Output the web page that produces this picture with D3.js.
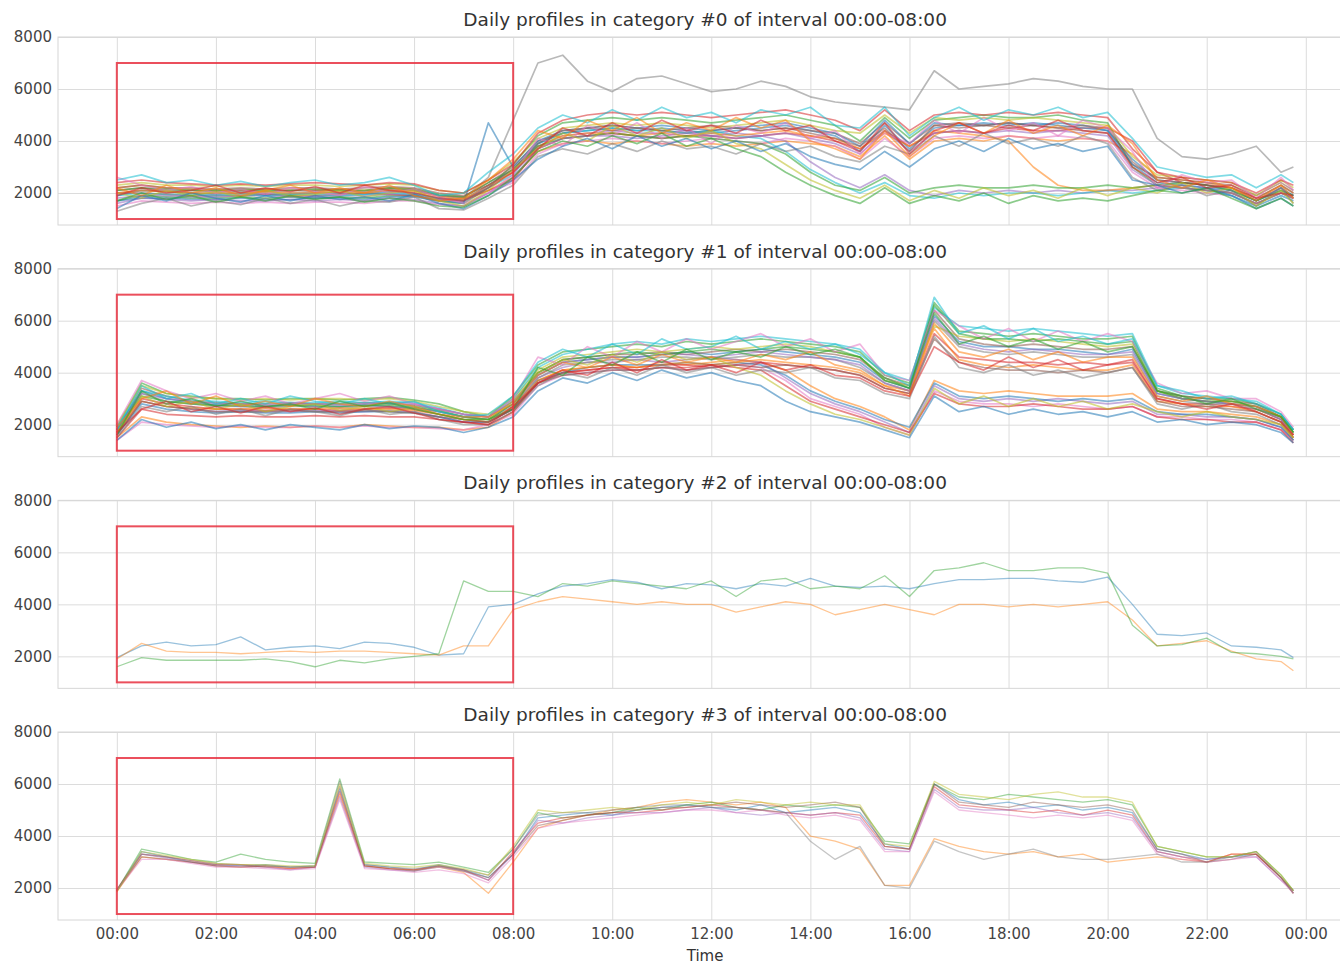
<!DOCTYPE html>
<html>
<head>
<meta charset="utf-8">
<script src="https://cdn.jsdelivr.net/npm/d3@7"></script>
<style>
  body { margin: 0; background: #fff; }
  svg { display: block; font-family: "DejaVu Sans", sans-serif; }
</style>
</head>
<body>
<svg id="chart" width="1340" height="965"></svg>
<script>
// Half-hour slots, last sample at 23:45.
const slots = d3.range(0, 24, 0.5).concat([23.75]);
const tickHours = d3.range(0, 25, 2);
const tickLabels = ['00:00', '02:00', '04:00', '06:00', '08:00', '10:00', '12:00',
                    '14:00', '16:00', '18:00', '20:00', '22:00', '00:00'];
const yTicks = [2000, 4000, 6000, 8000];
const yDomain = [770, 8000];
const interval = {from: 0, to: 8, low: 1000, high: 7000};
const titles = [0, 1, 2, 3].map(c => `Daily profiles in category #${c} of interval 00:00-08:00`);

const cat0 = [
  [1900,2100,2050,2000,1950,2000,1950,1950,2000,2000,1950,2050,2000,1800,1750, 2300,2900, 3900,4300,4400,4500,4400,4500,4400,4300,4400,4500,4600,4400,4200, 3600,4600,3700,4500,4600,4600,4700,4600,4700,4600,4400, 3300,2500,2400,2300,2100,1700,2100,1900],
  [2200,2300,2200,2150,2100,2100,2150,2100,2100,2150,2100,2200,2150,1900,1800, 2100,2600, 3600,3900,4000,3900,4000,3900,3800,3900,3800,3900,4000,3900,3800, 3400,4200,3300,4000,4100,4000,4200,4100,4000,4100,4000, 3500,2600,2500,2400,2200,1800,2300,2000],
  [1700,1900,1850,1800,1800,1850,1800,1850,1800,1850,1800,1900,1900,1700,1600, 2200,3100, 4200,4700,4800,4900,4800,4900,4800,4700,4800,4900,5000,4800,4600, 4000,4900,4100,4800,4900,5000,4900,4900,5000,4800,4700, 3000,2300,2200,2100,2000,1600,2000,1800],
  [2000,2000,1950,1900,1900,1900,1950,1900,1900,1950,2000,1950,1900,1750,1700, 2100,2500, 3700,4100,4200,4300,4200,4100,4200,4200,4100,4200,4300,4200,4000, 3700,4400,3800,4300,4400,4300,4500,4400,4400,4500,4500, 4000,2800,2400,2300,2200,1700,2200,1800],
  [1800,1900,1900,1850,1850,1900,1900,1850,1850,1900,1900,1950,1950,1750,1650, 2300,2800, 3800,4200,4300,4400,4300,4300,4400,4200,4300,4200,4000,3200,2600, 2200,2700,2100,1900,2100,2000,2100,2000,2100,2000,2100, 2100,2200,2300,2200,2000,1600,2000,1800],
  [2100,2200,2100,2100,2050,2100,2050,2100,2100,2100,2050,2150,2100,1900,1850, 2400,3000, 4000,4300,4500,4400,4500,4400,4300,4400,4500,4400,4500,4400,4300, 3900,4700,3900,4600,4500,4600,4500,4600,4500,4400,4300, 3100,2600,2500,2400,2300,1900,2400,2100],
  [1500,1700,1650,1600,1650,1600,1650,1600,1650,1650,1600,1700,1700,1550,1500, 2000,2400, 3500,3900,4000,4100,4000,3900,4000,4100,4000,3900,4100,4000,3800, 3300,4100,3400,4100,4200,4100,4200,4100,4200,4100,4000, 2800,2200,2100,2000,1900,1500,1900,1700],
  [2000,2100,2050,2000,2000,2050,2000,2000,2050,2000,2000,2100,2100,1900,1800, 2600,4800, 7000,7300,6300,5900,6400,6500,6200,5900,6000,6300,6100,5700,5500, 5400,5300,5200,6700,6000,6100,6200,6400,6300,6100,6000, 6000,4100,3400,3300,3500,3800,2800,3000],
  [2300,2400,2300,2300,2250,2300,2250,2300,2300,2250,2300,2350,2300,2100,2000, 2500,3200, 4100,4500,4600,4700,4600,4700,4600,4500,4600,4700,4800,4600,4400, 4300,5000,4300,4900,4800,4900,4800,4900,4800,4700,4600, 3400,2700,2600,2500,2400,1900,2500,2200],
  [1900,2000,1950,1950,1900,1950,1900,1950,1950,1900,1950,2000,1950,1800,1700, 2200,2700, 3900,4300,4400,4500,4400,4400,4300,4400,4200,4100,3600,2900,2400, 2000,2400,1900,1800,2000,1900,2000,2000,1900,2000,2100, 2000,2100,2200,2100,1900,1500,1900,1700],
  [1700,1800,1800,1750,1750,1800,1750,1750,1800,1800,1750,1850,1850,1700,1600, 4700,3000, 4000,4400,4500,4600,4500,4600,4500,4400,4500,4600,4700,4500,4300, 3800,4800,3900,4700,4600,4700,4600,4700,4600,4500,4400, 3100,2400,2300,2200,2100,1700,2200,1900],
  [2000,2100,2050,2000,2000,2000,2050,2000,2000,2050,2000,2100,2050,1850,1750, 2300,2800, 3800,4200,4300,4300,4200,4300,4200,4300,4200,4300,4400,4200,4100, 3700,4300,3800,4400,4300,4200,4000,3000,2300,2100,2100, 2200,2300,2200,2100,2000,1600,2000,1800],
  [2100,2200,2150,2100,2100,2150,2100,2100,2150,2100,2100,2200,2150,1950,1850, 2400,2900, 3800,4100,4200,4300,4200,4100,4200,4100,4000,3900,3500,2800,2300, 2100,2600,2000,2200,2300,2200,2200,2300,2200,2200,2300, 2200,2300,2400,2300,2100,1700,2100,1900],
  [2400,2500,2400,2350,2300,2350,2300,2350,2400,2350,2300,2400,2350,2100,2000, 2500,3100, 4300,4800,5000,5100,5000,5100,5000,4900,5000,5100,5200,5000,4800, 4400,5200,4400,5000,5100,5000,5100,5000,5100,5000,4900, 3700,2800,2600,2500,2400,2000,2500,2300],
  [1600,1800,1750,1700,1750,1700,1700,1750,1700,1750,1700,1800,1750,1600,1500, 2000,2600, 3700,4100,4200,4200,4100,4200,4300,4200,4100,4200,4300,4100,3900, 3500,4400,3600,4300,4400,4300,4400,4300,4400,4300,4200, 2900,2300,2200,2100,2000,1600,2000,1800],
  [2200,2300,2200,2200,2150,2200,2150,2200,2200,2150,2200,2250,2200,2000,1900, 2300,2900, 3900,4400,4500,4600,4500,4400,4500,4600,4500,4400,4500,4300,4100, 3800,4500,3600,4600,4700,4600,4700,4600,4500,4600,4500, 3200,2500,2400,2300,2200,1800,2300,2000],
  [2600,2300,2100,2250,2000,2150,1950,2200,2050,1900,2250,2000,2150,1850,1600, 2000,2700, 4100,3800,4600,4200,4700,4100,4500,3900,4600,4300,4700,4100,4400, 3500,4300,3900,4800,4300,4900,4400,4700,4200,4800,4500, 3600,2200,2700,2400,2500,1800,2600,2100],
  [1300,1600,1800,1500,1700,1550,1800,1600,1750,1500,1700,1650,1850,1400,1350, 1800,2300, 3400,3700,3500,3900,3600,4000,3700,3800,3500,3900,3600,3800,3400, 3200,3800,3500,4200,3800,4300,3900,4100,3800,4200,3900, 2600,2100,2300,1900,2100,1500,2200,1600],
  [2000,1800,2100,1900,2050,1850,2100,1900,1950,2100,1850,2000,2100,1700,1500, 2100,2900, 3700,4300,4000,4600,4200,4500,4100,4400,3900,3700,3100,2500,2100, 1800,2300,1700,2100,1800,2200,1900,2100,1800,2200,1900, 2200,2000,2400,2000,2200,1500,2100,1600],
  [2500,2700,2400,2500,2300,2450,2250,2400,2500,2300,2400,2600,2300,1900,2000, 2800,3500, 4500,5000,4700,5200,4800,5300,4900,5100,4700,5200,5000,5300,4600, 4500,5300,4200,4900,5300,4800,5200,5000,5300,4900,5100, 4100,3000,2800,2600,2700,2200,2700,2400],
  [1400,1900,1700,2000,1800,1650,1900,1700,1900,1750,1850,1700,1950,1600,1400, 1900,2500, 3300,3800,4100,3700,4200,3800,4100,3700,4000,3600,3900,3400,3100, 2900,3600,3000,3700,4000,3600,4100,3700,3900,3600,3800, 2500,2300,2000,2200,1900,1400,1800,1500],
  [2200,1900,2300,2000,2200,1900,2100,2300,2000,2200,2000,2300,1900,1700,1800, 2500,3300, 4400,4100,4800,4400,4900,4300,4700,4400,4900,4500,4800,4000,3700, 3300,4400,3400,4200,4700,4300,4800,4300,4600,4200,4600, 3900,2500,2200,2500,2200,1700,2300,1800],
  [1700,2000,1750,1900,1650,1850,1700,1900,1750,1850,1650,1800,1700,1500,1450, 1900,2600, 3600,4000,3800,4200,3900,4300,3800,4100,3700,3400,2800,2300,1900, 1600,2200,1600,1900,1700,2000,1600,1900,1700,1800,1700, 1900,2100,2000,2200,1800,1400,1800,1500],
  [1900,2200,2000,2100,2300,2000,2200,2050,2250,2000,2300,2100,2000,1800,1700, 2200,2800, 3700,4500,4200,4700,4300,4800,4400,4600,4300,4800,4400,4600,4000, 3600,4700,3500,4400,4700,4300,4600,4400,4800,4400,4300, 3000,2400,2600,2200,2300,1800,2000,1900]
];

const cat1 = [
  [1800,3300,3000,2850,2750,2700,2700,2750,2700,2700,2750,2700,2650,2500,2300, 2200,2800, 3900,4400,4500,4600,4600,4700,4800,4700,4800,4900,4800,4700,4600, 4400,3700,3400,6200,5200,5000,5000,4900,4900,4800,4700, 4900,3200,3000,2900,2800,2700,2300,1700],
  [1500,2300,2100,2000,1950,1900,1950,1900,1950,1900,2000,1950,1900,1900,1800, 1900,2500, 3700,4100,4200,4300,4200,4400,4300,4400,4500,4400,4100,3500,3000, 2700,2300,1800,3700,3300,3200,3300,3200,3100,3100,3100, 3200,2600,2500,2500,2400,2300,2000,1500],
  [1900,3600,3200,3100,3000,3000,2950,3000,3000,2950,3000,3050,2950,2800,2500, 2300,3100, 4300,4800,4900,5000,5100,5000,5200,5100,5200,5300,5200,5100,5000, 4800,3900,3600,6700,5600,5500,5400,5500,5400,5300,5300, 5400,3400,3100,3000,3000,2800,2400,1800],
  [1700,3000,2800,2700,2600,2600,2550,2600,2600,2550,2600,2650,2600,2400,2200, 2100,2600, 3600,4000,4100,4200,4200,4300,4300,4200,4300,4400,4300,4200,4100, 3900,3400,3200,5500,4600,4500,4400,4400,4300,4400,4300, 4500,3000,2800,2800,2700,2600,2200,1600],
  [1600,2900,2700,2600,2500,2550,2500,2500,2550,2500,2500,2550,2500,2300,2100, 2100,2700, 3800,4200,4400,4400,4500,4400,4500,4600,4500,4400,3800,3200,2800, 2500,2100,1700,3500,3000,2900,3000,2900,3000,2900,2800, 2900,2400,2400,2300,2300,2200,1900,1400],
  [1800,3400,3100,2900,2850,2800,2800,2850,2800,2800,2850,2800,2750,2600,2400, 2300,2900, 4000,4500,4600,4700,4700,4800,4700,4800,4900,4800,4900,4800,4700, 4500,3800,3500,6400,5300,5100,5000,5100,5000,4900,4900, 5000,3300,3100,3000,2900,2800,2300,1800],
  [1400,2100,2000,1950,1900,1950,1900,1900,1950,1900,1950,1900,1900,1850,1800, 2000,2400, 3500,3900,4000,4100,4100,4200,4100,4200,4300,4200,3700,3000,2700, 2400,1900,1600,3300,2900,2800,2800,2700,2800,2700,2600, 2700,2300,2300,2200,2200,2100,1800,1400],
  [1700,3200,2900,2800,2700,2700,2650,2700,2700,2650,2700,2700,2650,2500,2300, 2200,2700, 3800,4300,4400,4500,4500,4600,4600,4500,4600,4700,4600,4600,4500, 4200,3600,3300,6000,5000,4800,4700,4800,4700,4600,4600, 4700,3100,2900,2800,2800,2600,2200,1600],
  [2000,3500,3200,3050,3000,2950,3000,2950,3000,3000,2950,3000,2900,2700,2500, 2400,3000, 4100,4600,4700,4800,4900,4800,4900,5000,4900,5000,5100,5000,4800, 4600,3700,3500,5800,5400,5300,5200,5300,5200,5100,5000, 5100,3300,3000,2900,2900,2700,2300,1700],
  [1900,3300,3100,2950,2900,2850,2900,2850,2850,2900,2850,2900,2850,2650,2400, 2300,3000, 4200,4700,4900,5100,5200,5100,5300,5200,5300,5400,5300,5200,5100, 4900,4000,3700,6500,5800,5700,5600,5700,5600,5500,5400, 5500,3500,3200,3100,3000,2900,2400,1800],
  [1600,2800,2600,2500,2450,2500,2450,2450,2500,2450,2500,2500,2450,2300,2100, 2100,2600, 3700,4000,4200,4300,4300,4300,4400,4300,4400,4300,3900,3300,2900, 2600,2200,1900,3600,3100,3000,3100,3000,2900,3000,2900, 3000,2500,2400,2400,2300,2200,1900,1400],
  [1700,2900,2700,2650,2600,2600,2650,2600,2600,2650,2600,2600,2550,2400,2200, 2100,2700, 3700,4100,4200,4300,4200,4300,4400,4300,4400,4500,4400,4300,4200, 4000,3500,3300,5700,4500,4300,4200,4300,4200,4100,4100, 4300,2900,2800,2700,2700,2500,2100,1500],
  [1800,3100,2900,2800,2750,2750,2700,2750,2750,2700,2750,2750,2700,2550,2300, 2200,2800, 4000,4500,4600,4700,4800,4700,4800,4900,4800,4900,5000,4900,4800, 4600,3700,3400,6600,5500,5300,5300,5200,5300,5200,5100, 5200,3300,3000,2900,2900,2700,2300,1700],
  [1500,2600,2400,2350,2300,2350,2300,2300,2350,2300,2350,2300,2300,2200,2100, 2000,2500, 3600,4000,4100,4200,4100,4200,4200,4300,4200,4100,3500,2900,2600, 2300,2000,1700,3200,2800,2700,2700,2800,2700,2600,2600, 2700,2300,2200,2200,2100,2100,1800,1300],
  [1800,3200,3000,2900,2800,2800,2750,2800,2800,2750,2800,2850,2800,2600,2400, 2300,2900, 3900,4400,4500,4600,4600,4700,4700,4600,4700,4800,4700,4600,4500, 4300,3600,3300,6100,5100,4900,4800,4900,4800,4700,4700, 4800,3200,3000,2900,2800,2700,2200,1600],
  [1600,2900,2700,2600,2500,2500,2500,2550,2500,2500,2550,2500,2450,2300,2200, 2100,2600, 3600,3900,4000,4100,4100,4200,4100,4200,4300,4200,4300,4200,4100, 3900,3400,3200,5300,4400,4200,4100,4100,4000,4100,4000, 4200,2900,2700,2700,2600,2500,2100,1500],
  [2000,3700,3300,3000,3200,2900,3100,2800,3000,3200,2900,3100,2800,2600,2400, 2300,3000, 4600,4300,5000,4600,5200,4800,5300,4900,5200,5500,5000,5300,4800, 5100,3900,3700,6400,5800,5300,5700,5200,5600,5200,5500, 5200,3600,3200,3300,3000,3000,2500,1900],
  [1500,2700,2500,2700,2400,2600,2350,2600,2500,2350,2600,2400,2500,2200,2000, 2000,2500, 3500,4000,3800,4200,3900,4300,4000,4200,3900,4100,4000,4200,3800, 3700,3200,3000,5400,4200,4000,4300,3900,4100,3800,4000, 4200,2800,2600,2800,2500,2400,2000,1400],
  [1700,3100,2700,2900,2600,2800,2500,2700,2800,2550,2700,2500,2650,2400,2200, 2200,2900, 4000,4500,4300,4700,4400,4800,4500,4600,4200,3900,3300,2800,2400, 2200,1900,1600,3400,2800,3100,2700,3000,2700,2900,2600, 2800,2500,2300,2500,2300,2200,2000,1500],
  [1800,3500,3000,3200,2800,3000,2800,3100,2900,2800,3000,2800,2900,2500,2300, 2400,3100, 4400,4900,4600,5100,4700,5300,4900,5000,5400,4900,5200,4900,5100, 4700,4000,3500,6900,5500,5800,5300,5700,5200,5400,5100, 5300,3500,3300,3000,3100,2800,2400,1800],
  [1400,2200,1900,2100,1850,2000,1800,2000,1900,1800,2000,1850,1950,1900,1700, 1900,2300, 3300,3800,3600,4000,3700,4100,3800,4000,3700,3500,2900,2500,2300, 2100,1800,1500,3100,2500,2700,2400,2600,2400,2500,2300, 2500,2100,2200,2000,2100,2000,1700,1300],
  [1900,3000,3300,2800,3100,2700,2900,2700,3000,2800,2700,2900,2700,2400,2300, 2300,2800, 3900,4400,4200,4600,4300,4700,4400,4600,4400,4700,4500,4800,4300, 4100,3500,3100,5900,4800,4600,4900,4500,4800,4400,4600, 4600,3100,2900,3100,2800,2700,2300,1600],
  [1600,3300,2800,3000,2700,2900,2700,2800,2600,2900,2700,2850,2600,2400,2200, 2200,2600, 4200,3900,4600,4300,4800,4400,4900,4500,4800,4600,5000,4700,4900, 4600,3800,3400,6300,5100,5400,5000,5300,4900,5200,4800, 5000,3300,3100,2800,3000,2600,2300,1700],
  [1700,2600,2900,2500,2700,2450,2700,2500,2650,2400,2600,2700,2450,2200,2100, 2000,2700, 3600,4100,3900,4400,4000,4500,4100,4300,4000,4400,4100,4300,3900, 3800,3300,3100,5000,4400,4100,4600,4200,4500,4100,4300, 4400,3000,2800,2600,2800,2500,2100,1600]
];

const cat2 = [
  [1950,2400,2550,2400,2450,2750,2250,2350,2400,2300,2550,2500,2350,2050,2100, 3900,4000, 4400,4700,4800,4950,4850,4600,4800,4750,4600,4800,4700,5000,4700, 4650,4700,4600,4800,4950,4950,5000,5000,4900,4850,5050, 4000,2850,2800,2900,2400,2350,2250,1950],
  [1900,2500,2200,2150,2150,2100,2150,2200,2150,2200,2200,2150,2100,2050,2400, 2400,3800, 4100,4300,4200,4100,4000,4100,4000,4000,3700,3900,4100,4000,3600, 3800,4000,3800,3600,4000,4000,3900,4000,3900,4000,4100, 3400,2400,2500,2600,2200,1900,1800,1450],
  [1600,1950,1850,1850,1850,1850,1900,1800,1600,1850,1750,1900,2000,2100,4900, 4500,4500, 4300,4800,4700,4900,4800,4700,4600,4900,4300,4900,5000,4600,4700, 4600,5100,4300,5300,5400,5600,5300,5300,5400,5400,5200, 3200,2400,2450,2700,2150,2100,2000,1900]
];

const cat3 = [
  [1900,3400,3200,3000,2900,2850,2900,2800,2850,5800,2900,2800,2700,2900,2700, 2400,3300, 4700,4800,4900,4800,5000,5100,5200,5100,5000,5200,4900,5000,5100, 4900,3700,3500,6000,5400,5200,5300,5100,5200,5000,5100, 4900,3500,3300,3100,3200,3300,2400,1900],
  [1850,3200,3100,3000,2850,2800,2850,2750,2800,5600,2850,2750,2700,2800,2600, 1800,3000, 4300,4600,4800,5000,5100,5300,5400,5300,5200,5300,5100,4000,3800, 3500,2100,2100,3900,3600,3400,3300,3400,3200,3300,3000, 3100,3200,3100,3000,3300,3300,2400,1900],
  [1900,3500,3300,3100,3000,3300,3100,3000,2950,6200,3000,2950,2900,3000,2800, 2600,3500, 4900,4700,4800,4900,5100,5000,5200,5300,5100,5000,5200,5100,5200, 5100,3800,3700,6000,5500,5400,5600,5500,5400,5300,5400, 5200,3600,3400,3200,3200,3400,2500,1900],
  [1950,3300,3200,3050,2900,2900,2800,2750,2800,5700,2850,2750,2700,2850,2700, 2300,3400, 4500,4700,4800,4900,4900,5000,5100,5200,5100,5000,4900,4800,4900, 4800,3600,3500,5900,5200,5100,5000,4900,5000,4800,5000, 4800,3400,3200,3000,3300,3300,2400,1800],
  [1900,3300,3150,3000,2850,2850,2800,2700,2800,5500,2800,2700,2650,2800,2650, 2300,3300, 4600,4500,4700,4800,4900,4900,5000,5100,4900,4800,4900,4800,4900, 4700,3500,3400,5800,5100,5000,5000,5100,4900,4800,4900, 4700,3400,3200,3100,3200,3200,2300,1900],
  [1900,3200,3100,3000,2850,2800,2850,2800,2800,5900,2850,2750,2650,2850,2650, 2400,3300, 4400,4600,4800,4900,5000,5100,5100,5200,5300,5200,5100,5200,5300, 5100,3600,3500,6000,5300,5200,5100,5300,5200,5100,5200, 5000,3500,3300,3000,3100,3300,2400,1800],
  [1900,3100,3100,2950,2800,2800,2750,2700,2750,5400,2750,2700,2600,2700,2550, 2200,3200, 4300,4500,4600,4700,4800,4900,5000,5000,4900,5000,4800,4700,4800, 4600,3400,3400,5700,5000,4900,4800,4700,4800,4700,4800, 4600,3300,3100,3000,3100,3200,2300,1800],
  [1900,3300,3200,3050,2950,2900,2850,2800,2850,6100,2900,2800,2750,2850,2700, 2500,3500, 4800,4900,4900,5000,5100,5200,5200,5100,5100,5000,4900,3800,3100, 3600,2100,2000,3800,3400,3100,3300,3500,3200,3100,3100, 3200,3300,3000,3000,3200,3400,2400,1800],
  [1850,3400,3250,3100,2950,2900,2900,2850,2850,6000,2950,2850,2800,2900,2750, 2500,3600, 5000,4900,5000,5100,5000,5200,5300,5200,5400,5300,5200,5300,5200, 5200,3700,3600,6100,5600,5500,5400,5600,5700,5500,5500, 5300,3600,3400,3200,3200,3400,2500,1900]
];

const categories = [cat0, cat1, cat2, cat3];
const palette = d3.schemeCategory10;

const plotLeft = 58;
const panelHeight = 188;
const panelTop = i => 37 + i * 231.67;

// Matplotlib-style 5% margins around 0..23.75 h.
const x = d3.scaleLinear()
  .domain([-0.05 * 23.75, 23.75 * 1.05])
  .range([plotLeft, plotLeft + 26.125 * 49.54]);

const svg = d3.select('#chart');

categories.forEach((profiles, i) => {
  profiles.forEach((p, j) => {
    if (p.length !== slots.length)
      throw new Error(`category ${i} profile ${j} has ${p.length} values`);
  });
  drawPanel(profiles, i);
});

svg.append('text')
  .attr('x', (x.range()[0] + x.range()[1]) / 2)
  .attr('y', 961)
  .attr('text-anchor', 'middle')
  .attr('font-size', '15px')
  .attr('fill', '#333')
  .text('Time');


function drawPanel(profiles, i) {
  const top = panelTop(i);
  const plotWidth = x.range()[1] - x.range()[0];
  const y = d3.scaleLinear().domain(yDomain).range([top + panelHeight, top]);

  const g = svg.append('g');

  svg.append('clipPath')
    .attr('id', `clip${i}`)
    .append('rect')
      .attr('x', x.range()[0])
      .attr('y', top)
      .attr('width', plotWidth)
      .attr('height', panelHeight);

  // Grid via axes
  const xAxis = d3.axisBottom(x)
    .tickValues(tickHours)
    .tickSize(-panelHeight)
    .tickPadding(8)
    .tickFormat((d, k) => i === 3 ? tickLabels[k] : '');

  g.append('g')
    .attr('transform', `translate(0, ${top + panelHeight})`)
    .call(xAxis)
    .call(a => a.select('.domain').remove())
    .call(a => a.selectAll('line').attr('stroke', '#dcdcdc'))
    .call(a => a.selectAll('text')
      .attr('font-size', '15px')
      .attr('font-family', '"DejaVu Sans", sans-serif')
      .attr('fill', '#444'));

  const yAxis = d3.axisLeft(y)
    .tickValues(yTicks)
    .tickSize(-plotWidth)
    .tickPadding(6)
    .tickFormat(d3.format('d'));

  g.append('g')
    .attr('transform', `translate(${x.range()[0]}, 0)`)
    .call(yAxis)
    .call(a => a.select('.domain').remove())
    .call(a => a.selectAll('line').attr('stroke', '#dcdcdc'))
    .call(a => a.selectAll('text')
      .attr('font-size', '15px')
      .attr('font-family', '"DejaVu Sans", sans-serif')
      .attr('fill', '#444'));

  g.append('rect')
    .attr('x', x.range()[0])
    .attr('y', top)
    .attr('width', plotWidth)
    .attr('height', panelHeight)
    .attr('fill', 'none')
    .attr('stroke', '#d6d6d6');

  const dense = profiles.length > 10;
  const line = d3.line()
    .x((d, k) => x(slots[k]))
    .y(d => y(d));

  g.append('g')
    .attr('clip-path', `url(#clip${i})`)
    .selectAll('path')
    .data(profiles)
    .join('path')
      .attr('d', line)
      .attr('fill', 'none')
      .attr('stroke', (d, j) => palette[j % 10])
      .attr('stroke-width', dense ? 1.7 : 1.3)
      .attr('stroke-opacity', dense ? 0.55 : 0.45)
      .attr('stroke-linejoin', 'round');

  g.append('rect')
    .attr('x', x(interval.from))
    .attr('y', y(interval.high))
    .attr('width', x(interval.to) - x(interval.from))
    .attr('height', y(interval.low) - y(interval.high))
    .attr('fill', 'none')
    .attr('stroke', '#e8303f')
    .attr('stroke-opacity', 0.85)
    .attr('stroke-width', 2);

  g.append('text')
    .attr('x', (x.range()[0] + x.range()[1]) / 2)
    .attr('y', top - 11)
    .attr('text-anchor', 'middle')
    .attr('font-size', '18.5px')
    .attr('fill', '#333')
    .text(titles[i]);
}
</script>
</body>
</html>
